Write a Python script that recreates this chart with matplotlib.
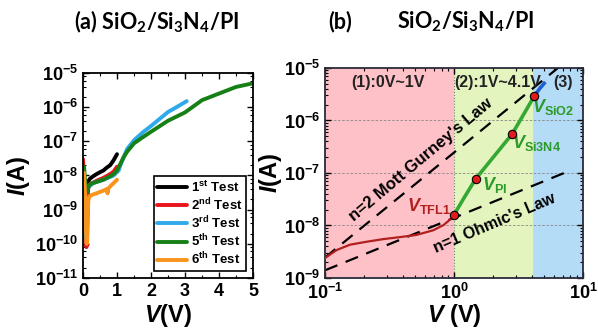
import matplotlib
matplotlib.use("Agg")
import matplotlib.pyplot as plt
from matplotlib.ticker import MultipleLocator, LogLocator, NullFormatter

plt.rcParams["font.family"] = ["Liberation Sans", "DejaVu Sans"]
plt.rcParams["font.weight"] = "bold"
plt.rcParams["axes.labelweight"] = "bold"
plt.rcParams["mathtext.fontset"] = "custom"
plt.rcParams["mathtext.default"] = "regular"
plt.rcParams["mathtext.it"] = "Liberation Sans:italic:bold"
plt.rcParams["mathtext.rm"] = "Liberation Sans:bold"
plt.rcParams["mathtext.bf"] = "Liberation Sans:bold"

# ---- panel (a): I-V of repeated tests ----
v_test1 = [0.10, 0.12, 0.15, 0.2, 0.3, 0.4, 0.5, 0.6, 0.7, 0.8, 0.9, 1.0]
i_test1 = [3e-9, 5.5e-9, 6.5e-9, 8e-9, 9.5e-9, 1.1e-8, 1.25e-8, 1.4e-8, 1.7e-8, 2.0e-8, 2.8e-8, 4.2e-8]

v_test2 = [0.0, 0.03, 0.05, 0.08, 0.10, 0.12, 0.15, 0.2, 0.4, 0.6, 0.8, 0.9, 1.0]
i_test2 = [3e-8, 1e-8, 1e-9, 2e-10, 8e-11, 1e-10, 4e-9, 5.5e-9, 7e-9, 8.5e-9, 1.1e-8, 1.3e-8, 1.8e-8]

v_test3 = [0.0, 0.03, 0.05, 0.10, 0.3, 0.6, 0.9, 1.05, 1.1, 1.2, 1.3, 1.5, 1.75, 2.0, 2.25, 2.5, 2.75, 3.0, 3.05]
i_test3 = [1.5e-10, 3e-10, 1e-9, 4e-9, 6e-9, 7.5e-9, 1.0e-8, 1.4e-8, 2e-8, 3.5e-8, 6e-8, 1.07e-7, 1.8e-7,
           2.8e-7, 4.5e-7, 7.2e-7, 1.0e-6, 1.4e-6, 1.5e-6]

v_test5 = [0.0, 0.03, 0.06, 0.10, 0.12, 0.15, 0.2, 0.3, 0.4, 0.5, 0.6, 0.7, 0.8, 0.9, 1.0, 1.1, 1.2, 1.3,
           1.5, 1.75, 2.0, 2.5, 3.0, 3.5, 4.0, 4.5, 5.0]
i_test5 = [1e-9, 1.8e-8, 8e-9, 3e-9, 3.5e-9, 4.5e-9, 5.5e-9, 6e-9, 6.5e-9, 7e-9, 7.5e-9, 8.5e-9, 9.5e-9,
           1.1e-8, 1.4e-8, 2.2e-8, 3.5e-8, 5e-8, 8.7e-8, 1.3e-7, 1.9e-7, 4e-7, 7e-7, 1.6e-6, 2.5e-6,
           3.9e-6, 5e-6]

v_test6 = [0.0, 0.03, 0.06, 0.09, 0.11, 0.13, 0.16, 0.2, 0.3, 0.4, 0.5, 0.6, 0.7, 0.72, 0.75, 0.8, 0.9, 1.0]
i_test6 = [5e-9, 1.2e-8, 3e-9, 2e-10, 1e-10, 6e-10, 2e-9, 2.5e-9, 2.8e-9, 3e-9, 3.3e-9, 3.6e-9, 4e-9,
           3e-9, 4.2e-9, 4.8e-9, 6e-9, 7.5e-9]

# ---- panel (b): log-log fit of the 5th test ----
v_low = [0.1, 0.123, 0.156, 0.21, 0.283, 0.38, 0.51, 0.69, 0.83, 0.96, 1.0]
i_low = [2.4e-9, 3.4e-9, 4.3e-9, 4.9e-9, 5.5e-9, 6.0e-9, 6.6e-9, 8.1e-9, 1.02e-8, 1.38e-8, 1.6e-8]
v_mid = [1.0, 1.2, 1.47, 2.0, 2.82, 3.5, 4.2]
i_mid = [1.6e-8, 3.4e-8, 7.7e-8, 1.95e-7, 5.5e-7, 1.36e-6, 2.95e-6]
v_high = [4.2, 4.6, 5.0]
i_high = [2.95e-6, 4.0e-6, 5.1e-6]
v_marks = [1.0, 1.47, 2.82, 4.2]
i_marks = [1.6e-8, 7.7e-8, 5.5e-7, 2.95e-6]
v_mg = [0.1, 7.0]
i_mg = [2.45e-9, 1.2e-5]
v_ohm = [0.1, 7.5]
i_ohm = [1.4e-9, 1.05e-7]
regions = [(0.1, 1.0, "#ffc1c8"), (1.0, 4.1, "#e4f4bf"), (4.1, 10.0, "#b5dcf6")]

fig = plt.figure(figsize=(5.98, 3.32), dpi=100)


def style_axes(ax, lw=1.3):
    for sp in ax.spines.values():
        sp.set_linewidth(lw)
    ax.tick_params(which="both", direction="in", top=True, right=True, labelsize=13)
    ax.tick_params(which="major", length=4, width=1.0)
    ax.tick_params(which="minor", length=2.2, width=0.8)


# left panel
ax1 = fig.add_axes([0.1388, 0.1627, 0.2843, 0.6175])
series = [
    (v_test1, i_test1, "#000000", "1$^{st}$ Test"),
    (v_test2, i_test2, "#e8141c", "2$^{nd}$ Test"),
    (v_test3, i_test3, "#2fa9ea", "3$^{rd}$ Test"),
    (v_test5, i_test5, "#168016", "5$^{th}$ Test"),
    (v_test6, i_test6, "#f7941d", "6$^{th}$ Test"),
]
for v, i, c, lab in series:
    ax1.plot(v, i, color=c, lw=2.8, label=lab, solid_capstyle="round")
ax1.set_yscale("log")
ax1.set_xlim(0, 5)
ax1.set_ylim(1e-11, 1e-5)
ax1.xaxis.set_major_locator(MultipleLocator(1))
ax1.xaxis.set_minor_locator(MultipleLocator(0.5))
ax1.yaxis.set_major_locator(LogLocator(base=10, numticks=10))
ax1.yaxis.set_minor_locator(LogLocator(base=10, subs=[2, 4, 6, 8], numticks=10))
ax1.yaxis.set_minor_formatter(NullFormatter())
style_axes(ax1)
ax1.set_xlabel(r"$\mathit{V}$(V)", fontsize=17)
ax1.xaxis.label.set_va("center")
ax1.xaxis.set_label_coords(0.5, -0.183)
ax1.set_ylabel(r"$\mathit{I}$(A)", fontsize=17, labelpad=2)
leg = ax1.legend(loc="lower right", fontsize=9.5, handlelength=2.3, handletextpad=0.25,
                 labelspacing=0.12, borderpad=0.25, borderaxespad=0.55, fancybox=False,
                 framealpha=1, edgecolor="black")
leg.get_frame().set_linewidth(1.2)

# right panel
ax2 = fig.add_axes([0.5435, 0.1627, 0.4314, 0.6325])
ax2.set_xscale("log")
ax2.set_yscale("log")
for x0, x1, c in regions:
    ax2.axvspan(x0, x1, color=c, lw=0, zorder=0)
for y in [1e-8, 1e-7, 1e-6]:
    ax2.axhline(y, color="#888888", ls=(0, (3, 2)), lw=0.6, zorder=1)
ax2.axvline(1.0, color="#777777", ls=":", lw=0.8, zorder=1)
ax2.plot(v_mg, i_mg, color="black", ls=(0, (6, 4)), lw=1.6, zorder=2)
ax2.plot(v_ohm, i_ohm, color="black", ls=(0, (6, 4)), lw=1.6, zorder=2)
ax2.plot(v_low, i_low, color="#b0201e", lw=1.6, zorder=3)
ax2.plot(v_mid, i_mid, color="#35a833", lw=2.6, zorder=3)
ax2.plot(v_high, i_high, color="#1f5fd6", lw=2.6, zorder=3)
ax2.plot(v_marks, i_marks, "o", ms=6, mfc="#e21b1b", mec="black", mew=0.8, zorder=4)
ax2.set_xlim(0.1, 10)
ax2.set_ylim(1e-9, 1e-5)
ax2.yaxis.set_minor_formatter(NullFormatter())
ax2.xaxis.set_minor_formatter(NullFormatter())
style_axes(ax2)
for sp in ax2.spines.values():
    sp.set_color("#2a2a3a")
ax2.set_xlabel(r"$\mathit{V}$ (V)", fontsize=17)
ax2.xaxis.label.set_va("center")
ax2.xaxis.set_label_coords(0.5, -0.178)
ax2.set_ylabel(r"$\mathit{I}$(A)", fontsize=17, labelpad=0)

ax2.text(0.31, 5.4e-6, "(1):0V~1V", fontsize=11.5, ha="center", va="center", color="#222222")
ax2.text(2.2, 5.4e-6, "(2):1V~4.1V", fontsize=11.5, ha="center", va="center", color="#222222")
ax2.text(7.03, 5.4e-6, "(3)", fontsize=11.5, ha="center", va="center", color="#222222")
ax2.text(0.55, 1.75e-7, "n=2 Mott Gurney's Law", fontsize=12, rotation=40,
         ha="center", va="center", rotation_mode="anchor")
ax2.text(2.05, 1.12e-8, "n=1 Ohmic's Law", fontsize=11.5, rotation=23,
         ha="center", va="center", rotation_mode="anchor")
ax2.text(0.95, 2.3e-8, r"$\mathit{V}_{TFL1}$", fontsize=13, color="#b0201e", ha="right", va="center")
ax2.text(2.08, 5.9e-8, r"$\mathit{V}_{PI}$", fontsize=13, color="#2a9a28", ha="center", va="center")
ax2.text(4.4, 3.7e-7, r"$\mathit{V}_{Si3N4}$", fontsize=13, color="#2a9a28", ha="center", va="center")
ax2.text(5.85, 1.8e-6, r"$\mathit{V}_{SiO2}$", fontsize=13, color="#2a9a28", ha="center", va="center")

# titles
tfont = ["Lato", "DejaVu Sans"]
fig.text(0.2625, 0.935, "(a) SiO$_2$/Si$_3$N$_4$/PI", fontsize=15.5, family=tfont,
         ha="center", va="center")
fig.text(0.5686, 0.935, "(b)", fontsize=15.5, family=tfont, ha="center", va="center")
fig.text(0.778, 0.935, "SiO$_2$/Si$_3$N$_4$/PI", fontsize=15.5, family=tfont,
         ha="center", va="center")

fig.savefig("out.png", dpi=100)
